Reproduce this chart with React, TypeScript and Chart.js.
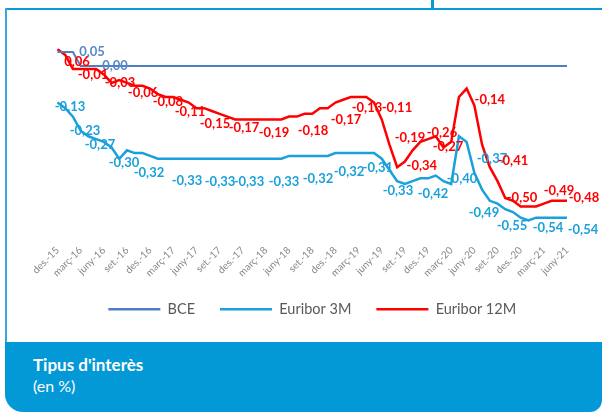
import React, { useEffect, useRef } from 'react';
import { Chart, registerables } from 'chart.js';

Chart.register(...registerables);

// Monthly categories: des. 2015 .. juny 2021 (67 months)
const monthNames = ['gen.', 'febr.', 'març', 'abr.', 'maig', 'juny', 'jul.', 'ag.', 'set.', 'oct.', 'nov.', 'des.'];
const categories: string[] = [];
for (let k = 0; k < 67; k++) {
  const m = (11 + k) % 12;
  const yy = 15 + Math.floor((11 + k) / 12);
  categories.push(`${monthNames[m]}-${yy}`);
}

// Axis tick labels (every quarter)
const tickLabels = [
  'des.-15', 'març-16', 'juny-16', 'set.-16', 'des.-16', 'març-17', 'juny-17', 'set.-17',
  'des.-17', 'març-18', 'juny-18', 'set.-18', 'des.-18', 'març-19', 'juny-19', 'set.-19',
  'des.-19', 'març-20', 'juny-20', 'set.-20', 'des.-20', 'març-21', 'juny-21',
];

const seriesNames = ['BCE', 'Euribor 3M', 'Euribor 12M'];

const bce = [
  0.05, 0.05, 0.05, 0, 0, 0, 0, 0, 0, 0, 0, 0,
  0, 0, 0, 0, 0, 0, 0, 0, 0, 0, 0, 0,
  0, 0, 0, 0, 0, 0, 0, 0, 0, 0, 0, 0,
  0, 0, 0, 0, 0, 0, 0, 0, 0, 0, 0, 0,
  0, 0, 0, 0, 0, 0, 0, 0, 0, 0, 0, 0,
  0, 0, 0, 0, 0, 0, 0,
];

const euribor3m = [
  -0.13, -0.15, -0.18, -0.23, -0.25, -0.26, -0.27, -0.29, -0.33, -0.30, -0.31, -0.31,
  -0.32, -0.33, -0.33, -0.33, -0.33, -0.33, -0.33, -0.33, -0.33, -0.33, -0.33, -0.33,
  -0.33, -0.33, -0.33, -0.33, -0.33, -0.33, -0.32, -0.32, -0.32, -0.32, -0.32, -0.32,
  -0.31, -0.31, -0.31, -0.31, -0.31, -0.31, -0.33, -0.37, -0.41, -0.42, -0.41, -0.40,
  -0.40, -0.39, -0.41, -0.42, -0.25, -0.27, -0.38, -0.44, -0.48, -0.49, -0.51, -0.52,
  -0.54, -0.55, -0.54, -0.54, -0.54, -0.54, -0.54,
];

const euribor12m = [
  0.06, 0.04, -0.01, -0.01, -0.01, -0.01, -0.03, -0.06, -0.05, -0.06, -0.07, -0.07,
  -0.08, -0.10, -0.11, -0.11, -0.12, -0.13, -0.15, -0.15, -0.16, -0.17, -0.18, -0.19,
  -0.19, -0.19, -0.19, -0.19, -0.19, -0.19, -0.18, -0.18, -0.17, -0.17, -0.15, -0.15,
  -0.13, -0.12, -0.11, -0.11, -0.11, -0.13, -0.19, -0.28, -0.36, -0.34, -0.30, -0.27,
  -0.26, -0.25, -0.29, -0.27, -0.11, -0.08, -0.14, -0.28, -0.36, -0.41, -0.47, -0.48,
  -0.50, -0.50, -0.50, -0.49, -0.48, -0.48, -0.48,
];

// Data labels: [month position, vertical anchor value, shown value]
const bceLabels: [number, number, number][] = [
  [4.47, 0.05, 0.05],
  [7.45, 0.0, 0.0],
];

const euribor3mLabels: [number, number, number][] = [
  [1.62, -0.146, -0.13], [3.56, -0.232, -0.23], [5.5, -0.282, -0.27], [8.61, -0.346, -0.30],
  [11.85, -0.379, -0.32], [16.77, -0.407, -0.33], [21.05, -0.414, -0.33], [24.8, -0.414, -0.33],
  [29.34, -0.414, -0.33], [33.74, -0.40, -0.32], [37.76, -0.375, -0.32], [41.5, -0.361, -0.31],
  [44.1, -0.446, -0.33], [48.64, -0.454, -0.42], [52.4, -0.40, -0.40], [56.28, -0.329, -0.37],
  [55.24, -0.521, -0.49], [58.87, -0.568, -0.55], [63.54, -0.575, -0.54], [68.07, -0.582, -0.54],
];

const euribor12mLabels: [number, number, number][] = [
  [2.53, 0.014, 0.06], [4.6, -0.032, -0.01], [8.1, -0.061, -0.03], [11.08, -0.096, -0.06],
  [14.3, -0.129, -0.08], [17.16, -0.164, -0.11], [20.4, -0.207, -0.15], [24.16, -0.221, -0.17],
  [28.04, -0.236, -0.19], [33.1, -0.229, -0.18], [37.37, -0.193, -0.17], [40.09, -0.15, -0.13],
  [43.97, -0.15, -0.11], [45.66, -0.257, -0.19], [47.2, -0.357, -0.34], [49.8, -0.239, -0.26],
  [50.58, -0.289, -0.27], [56.0, -0.121, -0.14], [59.0, -0.339, -0.41], [60.17, -0.468, -0.50],
  [64.96, -0.446, -0.49], [68.2, -0.471, -0.48],
];

const COLORS = {
  bce: '#4F7FC0',
  bceLabel: '#5B87C6',
  m3: '#1AA0DB',
  m12: '#FF0000',
  frame: '#0A9AD7',
  band: '#0399D6',
};

const fmt = (v: number) => v.toFixed(2).replace('.', ',');

export default function App() {
  const ref = useRef<HTMLCanvasElement>(null);

  useEffect(() => {
    if (!ref.current) return;
    const labelGroups = [
      { color: COLORS.bceLabel, items: bceLabels },
      { color: COLORS.m3, items: euribor3mLabels },
      { color: COLORS.m12, items: euribor12mLabels },
    ];
    const valueLabels = {
      id: 'valueLabels',
      afterDatasetsDraw(chart: any) {
        const { ctx, scales } = chart;
        const x = scales.x;
        const y = scales.y;
        ctx.save();
        ctx.font = 'bold 13px Lato';
        ctx.textAlign = 'center';
        ctx.textBaseline = 'middle';
        labelGroups.forEach((g) => {
          ctx.fillStyle = g.color;
          g.items.forEach(([i, v, t]) => {
            ctx.fillText(fmt(t), x.getPixelForValue(i), y.getPixelForValue(v));
          });
        });
        ctx.restore();
      },
    };

    const chart = new Chart(ref.current, {
      type: 'line',
      data: {
        labels: categories,
        datasets: [
          { label: seriesNames[0], data: bce, borderColor: COLORS.bce, backgroundColor: COLORS.bce, borderWidth: 2 },
          { label: seriesNames[1], data: euribor3m, borderColor: COLORS.m3, backgroundColor: COLORS.m3, borderWidth: 2.5 },
          { label: seriesNames[2], data: euribor12m, borderColor: COLORS.m12, backgroundColor: COLORS.m12, borderWidth: 2.5 },
        ],
      },
      options: {
        animation: false,
        responsive: false,
        maintainAspectRatio: false,
        layout: { padding: { top: 14, left: 51.5, right: 35, bottom: 15.5 } },
        elements: { point: { radius: 0 }, line: { tension: 0 } },
        plugins: {
          tooltip: { enabled: false },
          legend: {
            position: 'bottom',
            labels: {
              boxWidth: 52,
              boxHeight: 2.5,
              padding: 25,
              color: '#595959',
              font: { family: 'Lato', size: 14.5 },
              generateLabels: (c: any) =>
                Chart.defaults.plugins.legend.labels.generateLabels(c).map((l: any) => ({
                  ...l,
                  lineWidth: 0,
                  fillStyle: l.strokeStyle,
                })),
            },
          },
        },
        scales: {
          x: {
            grid: { display: false, drawTicks: false },
            border: { display: false },
            ticks: {
              autoSkip: false,
              minRotation: 45,
              maxRotation: 45,
              padding: 10,
              color: '#888888',
              font: { family: 'Lato', size: 10 },
              callback: (_v: any, i: number) => (i % 3 === 0 ? tickLabels[i / 3] : ''),
            },
            afterFit: (s: any) => {
              s.height = 42.5;
            },
          },
          y: { display: false, min: -0.6, max: 0.15 },
        },
      },
      plugins: [valueLabels],
    } as any);
    return () => chart.destroy();
  }, []);

  return (
    <div style={{ position: 'fixed', left: 0, top: 0, width: 602, height: 412, background: '#fff', overflow: 'hidden' }}>
      <div style={{ position: 'absolute', left: 431, top: 0, width: 3, height: 9, background: COLORS.frame }} />
      <div style={{ position: 'absolute', left: 5, top: 8, width: 597, height: 2, background: COLORS.frame }} />
      <div style={{ position: 'absolute', left: 5, top: 8, width: 1.5, height: 340, background: '#3AA8DC' }} />
      <canvas ref={ref} width={596} height={332} style={{ position: 'absolute', left: 6, top: 10, width: 596, height: 332 }} />
      <div
        style={{
          position: 'absolute',
          left: 5,
          top: 342,
          width: 597,
          height: 70,
          background: COLORS.band,
          borderBottomLeftRadius: 18,
          borderBottomRightRadius: 12,
        }}
      />
      <div style={{ position: 'absolute', left: 33, top: 355, color: '#fff', font: 'bold 17px Lato', lineHeight: '20px', whiteSpace: 'nowrap' }}>
        Tipus d'interès
      </div>
      <div style={{ position: 'absolute', left: 33, top: 376, color: '#fff', font: '16px Lato', lineHeight: '20px', whiteSpace: 'nowrap' }}>
        (en %)
      </div>
    </div>
  );
}
